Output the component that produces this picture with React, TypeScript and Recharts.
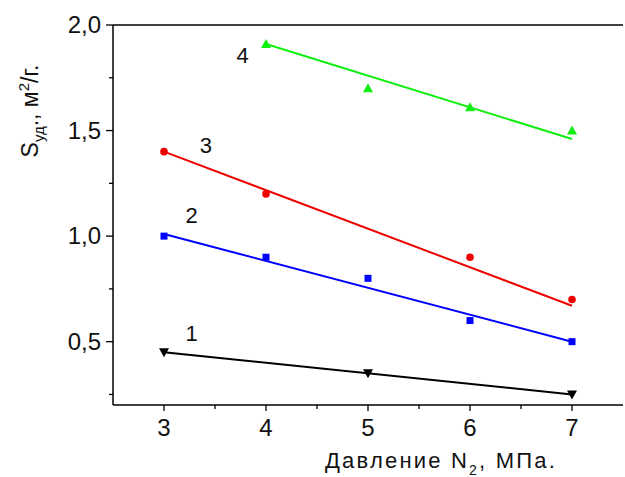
import React from 'react';
import { ComposedChart, Line, Scatter, XAxis, YAxis, ReferenceLine } from 'recharts';

const series1 = [{ x: 3, y: 0.45 }, { x: 5, y: 0.35 }, { x: 7, y: 0.25 }];
const fit1 = [{ x: 3, y: 0.45 }, { x: 7, y: 0.25 }];
const series2 = [{ x: 3, y: 1.0 }, { x: 4, y: 0.9 }, { x: 5, y: 0.8 }, { x: 6, y: 0.6 }, { x: 7, y: 0.5 }];
const fit2 = [{ x: 3, y: 1.01 }, { x: 7, y: 0.5 }];
const series3 = [{ x: 3, y: 1.4 }, { x: 4, y: 1.2 }, { x: 6, y: 0.9 }, { x: 7, y: 0.7 }];
const fit3 = [{ x: 3, y: 1.4 }, { x: 7, y: 0.67 }];
const series4 = [{ x: 4, y: 1.91 }, { x: 5, y: 1.7 }, { x: 6, y: 1.61 }, { x: 7, y: 1.5 }];
const fit4 = [{ x: 4, y: 1.91 }, { x: 7, y: 1.46 }];
const curveLabels = [
  { x: 3.27, y: 0.54, text: '1' },
  { x: 3.27, y: 1.1, text: '2' },
  { x: 3.41, y: 1.43, text: '3' },
  { x: 3.77, y: 1.86, text: '4' },
];
const xTicks = [3, 3.5, 4, 4.5, 5, 5.5, 6, 6.5, 7];
const yTicks = [0.25, 0.5, 0.75, 1.0, 1.25, 1.5, 1.75, 2.0];

const FONT = '"Liberation Sans", Arial, sans-serif';
const BLACK = '#000000';
const BLUE = '#0000ff';
const RED = '#ee0000';
const GREEN = '#11ee11';

const XTick = (props: any) => {
  const { x, y, payload } = props;
  const major = Number.isInteger(payload.value);
  return (
    <g>
      <line x1={x} x2={x} y1={y} y2={y + (major ? 6 : 4)} stroke={BLACK} strokeWidth={1.3} />
      {major && (
        <text x={x} y={y + 31} textAnchor="middle" fontSize={24} fontFamily={FONT} fill="#111">
          {String(payload.value)}
        </text>
      )}
    </g>
  );
};

const YTick = (props: any) => {
  const { x, y, payload } = props;
  const v = payload.value as number;
  const major = Math.abs(v * 2 - Math.round(v * 2)) < 1e-6;
  return (
    <g>
      <line x1={x} x2={x - (major ? 7 : 4)} y1={y} y2={y} stroke={BLACK} strokeWidth={1.3} />
      {major && (
        <text x={x - 12} y={y + 8} textAnchor="end" fontSize={24} fontFamily={FONT} fill="#111">
          {v.toFixed(1).replace('.', ',')}
        </text>
      )}
    </g>
  );
};

const triDown = (color: string) => (p: any) => (
  <polygon points={`${p.cx - 5},${p.cy - 4} ${p.cx + 5},${p.cy - 4} ${p.cx},${p.cy + 5}`} fill={color} />
);
const triUp = (color: string) => (p: any) => (
  <polygon points={`${p.cx - 5},${p.cy + 4} ${p.cx + 5},${p.cy + 4} ${p.cx},${p.cy - 5}`} fill={color} />
);
const square = (color: string) => (p: any) => (
  <rect x={p.cx - 3.5} y={p.cy - 3.5} width={7} height={7} fill={color} />
);
const circle = (color: string) => (p: any) => <circle cx={p.cx} cy={p.cy} r={3.8} fill={color} />;
const labelShape = (p: any) => (
  <text x={p.cx} y={p.cy + 8} textAnchor="middle" fontSize={22} fontFamily={FONT} fill="#111">
    {p.payload.text}
  </text>
);

const YLabel = (props: any) => {
  const vb = props.viewBox || {};
  const cx = 38;
  const cy = vb.y + 86;
  return (
    <text
      transform={`translate(${cx},${cy}) rotate(-90)`}
      textAnchor="middle"
      fontSize={23}
      fontFamily={FONT}
      fill="#111"
    >
      <tspan>S</tspan>
      <tspan fontSize={15} dy={6}>уд</tspan>
      <tspan dy={-6}>., м</tspan>
      <tspan fontSize={15} dy={-9}>2</tspan>
      <tspan dy={9}>/г.</tspan>
    </text>
  );
};

const XLabel = () => {
  return (
    <text x={441} y={468} textAnchor="middle" fontSize={22} fontFamily={FONT} fill="#111" letterSpacing={2.2}>
      <tspan>Давление N</tspan>
      <tspan fontSize={14} dy={7}>2</tspan>
      <tspan dy={-7}>, МПа.</tspan>
    </text>
  );
};

export default function App() {
  return (
    <div style={{ position: 'absolute', left: 0, top: 0, width: 625, height: 477, background: '#fff' }}>
      <ComposedChart width={625} height={477} margin={{ top: 25, right: 2, left: 0, bottom: 0 }}>
        <XAxis
          type="number"
          dataKey="x"
          domain={[2.5, 7.5]}
          ticks={xTicks}
          interval={0}
          tickLine={false}
          tickSize={0}
          tickMargin={0}
          tick={<XTick />}
          axisLine={{ stroke: BLACK, strokeWidth: 1.5 }}
          height={72}
          allowDataOverflow
          label={{ content: <XLabel /> }}
        />
        <YAxis
          type="number"
          dataKey="y"
          domain={[0.2, 2.0]}
          ticks={yTicks}
          interval={0}
          tickLine={false}
          tickSize={0}
          tickMargin={0}
          tick={<YTick />}
          axisLine={{ stroke: BLACK, strokeWidth: 1.5 }}
          width={113}
          allowDataOverflow
          label={{ content: <YLabel /> }}
        />
        <ReferenceLine y={2.0} stroke={BLACK} strokeWidth={1.5} />
        <Line data={fit1} dataKey="y" stroke={BLACK} strokeWidth={2} dot={false} isAnimationActive={false} />
        <Line data={fit2} dataKey="y" stroke={BLUE} strokeWidth={2} dot={false} isAnimationActive={false} />
        <Line data={fit3} dataKey="y" stroke={RED} strokeWidth={2} dot={false} isAnimationActive={false} />
        <Line data={fit4} dataKey="y" stroke={GREEN} strokeWidth={2} dot={false} isAnimationActive={false} />
        <Scatter data={series1} fill={BLACK} shape={triDown(BLACK)} isAnimationActive={false} />
        <Scatter data={series2} fill={BLUE} shape={square(BLUE)} isAnimationActive={false} />
        <Scatter data={series3} fill={RED} shape={circle(RED)} isAnimationActive={false} />
        <Scatter data={series4} fill={GREEN} shape={triUp(GREEN)} isAnimationActive={false} />
        <Scatter data={curveLabels} shape={labelShape} isAnimationActive={false} />
      </ComposedChart>
    </div>
  );
}
